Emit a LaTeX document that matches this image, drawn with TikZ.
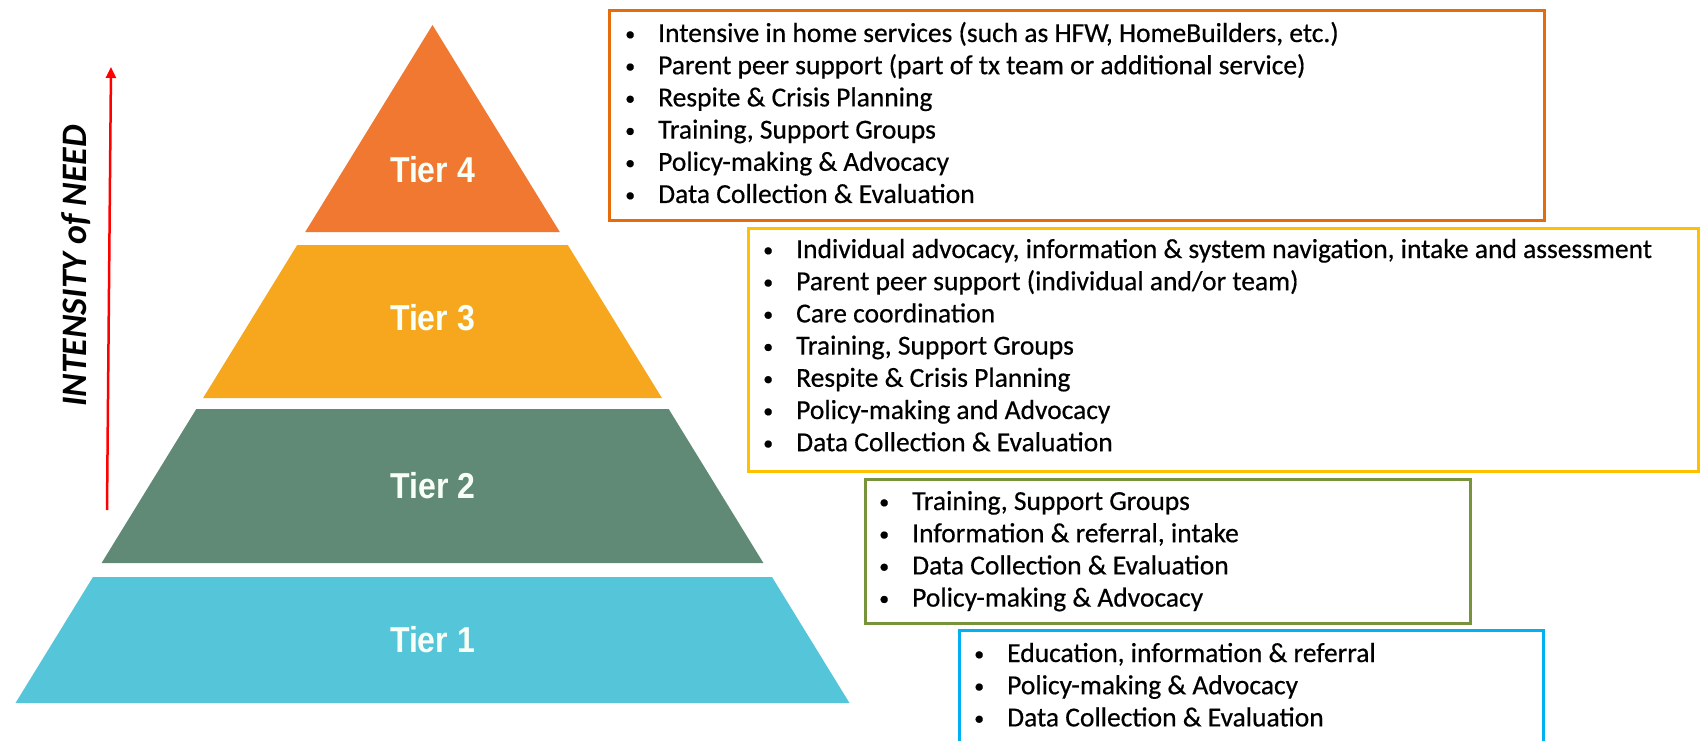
\documentclass[tikz,border=0pt]{standalone}
\usepackage{fontspec}
\setmainfont{Carlito}
\newfontfamily\tierfont{Liberation Sans}
\newfontfamily\listfont[FakeBold=0.5]{Carlito}
\usetikzlibrary{arrows.meta}
\definecolor{tierfour}{RGB}{240,120,48}
\definecolor{tierthree}{RGB}{247,167,30}
\definecolor{tiertwo}{RGB}{96,138,118}
\definecolor{tierone}{RGB}{85,197,217}
\definecolor{boxorange}{RGB}{228,108,10}
\definecolor{boxyellow}{RGB}{255,192,0}
\definecolor{boxgreen}{RGB}{119,147,60}
\definecolor{boxblue}{RGB}{0,176,240}
\newcommand{\itm}[1]{\makebox[0pt][c]{\raisebox{1.5pt}{\fontsize{20}{20}\selectfont\textbullet}}\hspace{28pt}#1}
\newcommand{\tiertext}[1]{\scalebox{0.89}[1]{#1}}
\begin{document}
\begin{tikzpicture}[x=1pt,y=-1pt,
  tierlabel/.style={font=\tierfont\bfseries\fontsize{36}{40}\selectfont, text=white!97!green, inner sep=0pt},
  listbox/.style={draw=#1, line width=3pt, anchor=north west, inner sep=0pt},
  listtext/.style={anchor=base west, inner sep=0pt, font=\listfont\fontsize{27.5}{32.2}\selectfont}]
\useasboundingbox (0,0) rectangle (1700,741);
% pyramid
\fill[tierfour]  (432.5,25) -- (559.8,232) -- (305.2,232) -- cycle;
\fill[tierthree] (297.2,245) -- (567.8,245) -- (661.9,398) -- (203.1,398) -- cycle;
\fill[tiertwo]   (196.3,409) -- (668.7,409) -- (763.4,563) -- (101.6,563) -- cycle;
\fill[tierone]   (93,577) -- (772,577) -- (849.5,703) -- (15.5,703) -- cycle;
\node[tierlabel] (t4) at (432.5,170) {\tiertext{Tier 4}};
\node[tierlabel] (t3) at (432.5,318) {\tiertext{Tier 3}};
\node[tierlabel] (t2) at (433,486) {\tiertext{Tier 2}};
\node[tierlabel] (t1) at (432.5,640) {\tiertext{Tier 1}};
% arrow
\coordinate (abot) at (107,510);
\coordinate (atop) at (111,67);
\draw[red, line width=2.5pt, -{Triangle[length=11pt,width=10pt]}] (abot) -- (atop);
\node[rotate=90, inner sep=0pt, font=\fontsize{35.8}{40}\selectfont\bfseries\itshape] (intensity) at (76,266) {INTENSITY of NEED};
% boxes
\node[listbox=boxorange, minimum width=935pt, minimum height=210pt] (box4) at (608,9) {};
\node[listbox=boxyellow, minimum width=950pt, minimum height=243pt] (box3) at (747,227) {};
\node[listbox=boxgreen, minimum width=605pt, minimum height=144pt] (box2) at (864,478) {};
\node[listbox=boxblue, minimum width=584pt, minimum height=140pt] (box1) at (958,629) {};
\node[listtext] (list4) at (630,42) {\begin{tabular}[t]{@{}l@{}}
\itm{Intensive in home services (such as HFW, HomeBuilders, etc.)}\\
\itm{Parent peer support (part of tx team or additional service)}\\
\itm{Respite \& Crisis Planning}\\
\itm{Training, Support Groups}\\
\itm{Policy-making \& Advocacy}\\
\itm{Data Collection \& Evaluation}
\end{tabular}};
\node[listtext] (list3) at (768,258) {\begin{tabular}[t]{@{}l@{}}
\itm{Individual advocacy, information \& system navigation, intake and assessment}\\
\itm{Parent peer support (individual and/or team)}\\
\itm{Care coordination}\\
\itm{Training, Support Groups}\\
\itm{Respite \& Crisis Planning}\\
\itm{Policy-making and Advocacy}\\
\itm{Data Collection \& Evaluation}
\end{tabular}};
\node[listtext] (list2) at (884,510) {\begin{tabular}[t]{@{}l@{}}
\itm{Training, Support Groups}\\
\itm{Information \& referral, intake}\\
\itm{Data Collection \& Evaluation}\\
\itm{Policy-making \& Advocacy}
\end{tabular}};
\node[listtext] (list1) at (979,662) {\begin{tabular}[t]{@{}l@{}}
\itm{Education, information \& referral}\\
\itm{Policy-making \& Advocacy}\\
\itm{Data Collection \& Evaluation}
\end{tabular}};
\end{tikzpicture}
\end{document}
